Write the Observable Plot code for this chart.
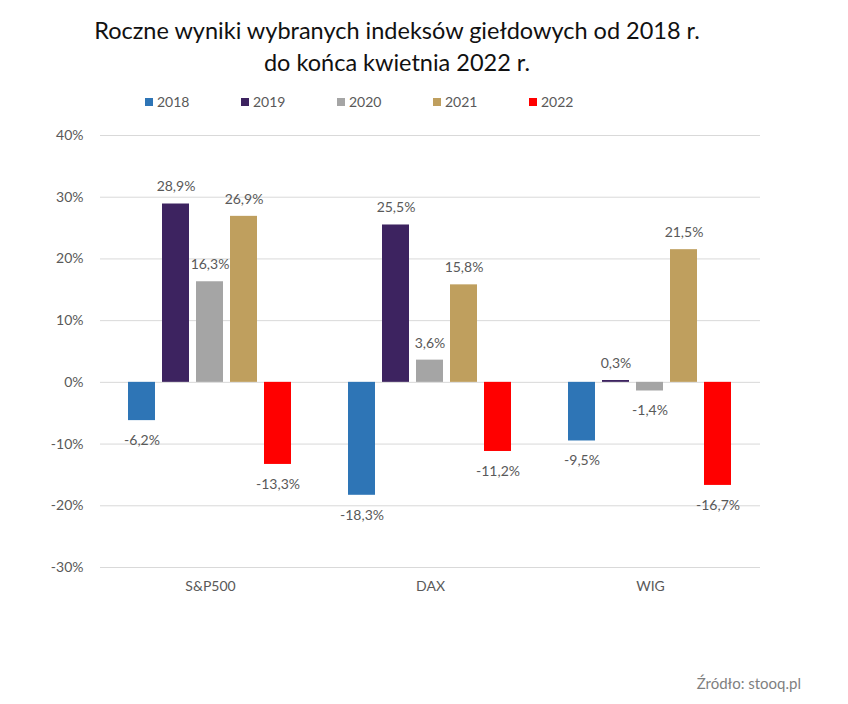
<!DOCTYPE html>
<html>
<head>
<meta charset="utf-8">
<script src="https://cdn.jsdelivr.net/npm/d3@7"></script>
<script src="https://cdn.jsdelivr.net/npm/@observablehq/plot@0.6"></script>
<style>
  body { margin: 0; background: #fff; font-family: Lato, "Open Sans", sans-serif; }
  #wrap { position: relative; width: 848px; height: 704px; }
  #title { position: absolute; left: 0; top: 14px; width: 794px; text-align: center;
           font-size: 23.5px; line-height: 32px; color: #111; }
  #legend { position: absolute; left: 145px; top: 93px; display: flex; font-size: 14px; color: #595959; }
  #legend .item { width: 96px; display: flex; align-items: center; }
  #legend .sw { width: 8px; height: 8px; margin-right: 4px; }
  #chart { position: absolute; left: 0; top: 115px; }
  #caption { position: absolute; right: 47px; top: 674px; font-size: 15px; color: #7f7f7f; }
</style>
</head>
<body>
<div id="wrap">
  <div id="title">Roczne wyniki wybranych indeksów giełdowych od 2018 r.<br>do końca kwietnia 2022 r.</div>
  <div id="legend"></div>
  <div id="chart"></div>
  <div id="caption">Źródło: stooq.pl</div>
</div>
<script>
const indices = ["S&P500", "DAX", "WIG"];
const years = ["2018", "2019", "2020", "2021", "2022"];
const colors = ["#2E75B6", "#3D2360", "#A5A5A5", "#BF9F5E", "#FF0000"];
const values2018 = [-6.2, -18.3, -9.5];
const values2019 = [28.9, 25.5, 0.3];
const values2020 = [16.3, 3.6, -1.4];
const values2021 = [26.9, 15.8, 21.5];
const values2022 = [-13.3, -11.2, -16.7];
const yTicks = [-30, -20, -10, 0, 10, 20, 30, 40];

const series = [values2018, values2019, values2020, values2021, values2022];
const data = [];
indices.forEach((idx, i) => {
  years.forEach((yr, j) => {
    data.push({index: idx, year: yr, value: series[j][i]});
  });
});

const fmt = v => v.toFixed(1).replace(".", ",") + "%";

const legend = document.getElementById("legend");
years.forEach((yr, j) => {
  const it = document.createElement("div");
  it.className = "item";
  it.innerHTML = `<span class="sw" style="background:${colors[j]}"></span><span>${yr}</span>`;
  legend.appendChild(it);
});

const chart = Plot.plot({
  width: 848,
  height: 492,
  marginLeft: 100,
  marginRight: 88,
  marginTop: 20,
  marginBottom: 40,
  style: {fontFamily: "Lato, 'Open Sans', sans-serif", background: "#fff"},
  fx: {domain: indices, padding: 0},
  x: {domain: years, paddingInner: 0.2, paddingOuter: 0.835, axis: null},
  y: {domain: [-30, 40]},
  color: {domain: years, range: colors},
  marks: [
    Plot.gridY(yTicks, {stroke: "#d9d9d9", strokeOpacity: 1, strokeWidth: 1}),
    Plot.axisY(yTicks, {tickSize: 0, tickPadding: 17, tickFormat: d => d + "%", label: null,
      fontSize: 14, fill: "#595959"}),
    Plot.axisFx({anchor: "bottom", tickSize: 0, tickPadding: 14, label: null, fontSize: 14, fill: "#595959"}),
    Plot.barY(data, {fx: "index", x: "year", y: "value", fill: "year"}),
    Plot.text(data.filter(d => d.value >= 0), {fx: "index", x: "year", y: "value", text: d => fmt(d.value),
      dy: -17, fontSize: 14, fill: "#595959"}),
    Plot.text(data.filter(d => d.value < 0), {fx: "index", x: "year", y: "value", text: d => fmt(d.value),
      dy: 20, fontSize: 14, fill: "#595959"})
  ]
});
document.getElementById("chart").appendChild(chart);
</script>
</body>
</html>
